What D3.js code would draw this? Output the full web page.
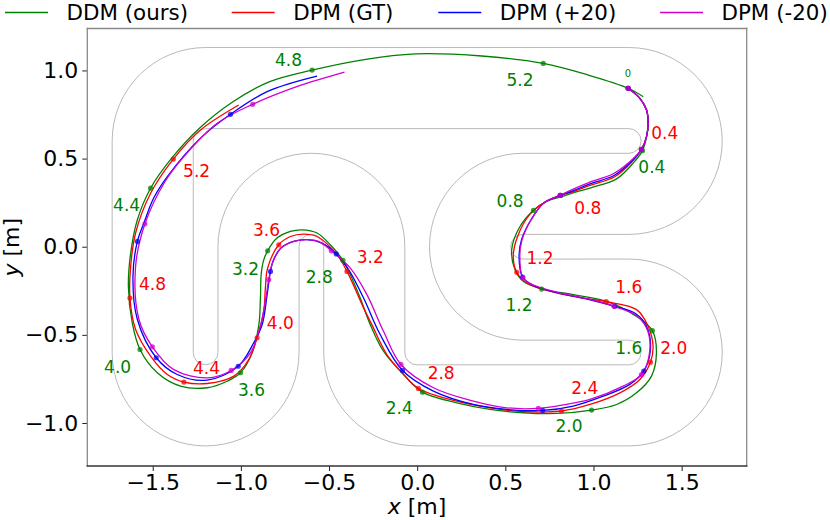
<!DOCTYPE html>
<html>
<head>
<meta charset="utf-8">
<script src="https://cdn.jsdelivr.net/npm/d3@7"></script>
<style>
    body { margin: 0; background: #fff; }
    svg { display: block; font-family: "DejaVu Sans", sans-serif; }
</style>
</head>
<body>
<div id="chart"></div>
<script>
// ---- data (metres) ----
const xTicks = [-1.5, -1.0, -0.5, 0.0, 0.5, 1.0, 1.5]
const yTicks = [-1.0, -0.5, 0.0, 0.5, 1.0]

// track walls: M/L points, A = [cx, cy, r, startDeg, endDeg]
const outerWall = [
    ['M', -1.2, 1.13], ['L', 1.2, 1.13], ['A', 1.2, 0.6, 0.53, 90, -90],
    ['L', 0.6, 0.07], ['A', 0.6, 0, 0.07, 90, 270], ['L', 1.2, -0.07],
    ['A', 1.2, -0.6, 0.53, 90, -90], ['L', 0, -1.13], ['A', 0, -0.6, 0.53, -90, -180],
    ['L', -0.53, 0], ['A', -0.6, 0, 0.07, 0, 180], ['L', -0.67, -0.6],
    ['A', -1.2, -0.6, 0.53, 0, -180], ['L', -1.73, 0.6], ['A', -1.2, 0.6, 0.53, 180, 90]
]
const innerWall = [
    ['M', -1.27, 0.6], ['A', -1.2, 0.6, 0.07, 180, 90], ['L', 1.2, 0.67],
    ['A', 1.2, 0.6, 0.07, 90, -90], ['L', 0.6, 0.53], ['A', 0.6, 0, 0.53, 90, 270],
    ['L', 1.2, -0.53], ['A', 1.2, -0.6, 0.07, 90, -90], ['L', 0, -0.67],
    ['A', 0, -0.6, 0.07, -90, -180], ['L', -0.07, 0], ['A', -0.6, 0, 0.53, 0, 180],
    ['L', -1.13, -0.6], ['A', -1.2, -0.6, 0.07, 0, -180], ['L', -1.27, 0.6]
]

const ddmPath = [
    [1.197, 0.899], [1.263, 0.842], [1.301, 0.776], [1.310, 0.700], [1.301, 0.625], [1.278, 0.545],
    [1.225, 0.474], [1.131, 0.385], [0.980, 0.333], [0.880, 0.304], [0.810, 0.281], [0.734, 0.257], [0.659, 0.206],
    [0.583, 0.115], [0.536, -0.017], [0.555, -0.130], [0.602, -0.196], [0.706, -0.240],
    [0.885, -0.272], [1.074, -0.310], [1.244, -0.395], [1.334, -0.476],
    [1.357, -0.602], [1.329, -0.734], [1.244, -0.829], [1.131, -0.895], [0.989, -0.927],
    [0.791, -0.946], [0.602, -0.942], [0.413, -0.923], [0.225, -0.886], [0.030, -0.825],
    [-0.078, -0.725], [-0.191, -0.593], [-0.266, -0.442], [-0.323, -0.291], [-0.379, -0.159], [-0.421, -0.077],
    [-0.493, 0.011], [-0.568, 0.078], [-0.653, 0.096], [-0.719, 0.087], [-0.795, 0.049], [-0.848, -0.023],
    [-0.872, -0.080], [-0.885, -0.159], [-0.889, -0.291], [-0.898, -0.442], [-0.936, -0.602], [-1.002, -0.715],
    [-1.078, -0.763], [-1.191, -0.800], [-1.342, -0.791], [-1.474, -0.715], [-1.572, -0.583],
    [-1.616, -0.432], [-1.638, -0.225], [-1.625, -0.036], [-1.587, 0.153], [-1.512, 0.332],
    [-1.390, 0.505], [-1.235, 0.672], [-1.045, 0.822], [-0.840, 0.935], [-0.596, 1.002],
    [-0.300, 1.062], [-0.011, 1.094], [0.366, 1.082], [0.715, 1.040], [0.970, 0.974], [1.197, 0.899], [1.282, 0.851]
]
const gtPath = [
    [1.197, 0.899], [1.263, 0.842], [1.301, 0.776], [1.310, 0.700], [1.301, 0.625], [1.272, 0.552],
    [1.215, 0.478], [1.120, 0.397], [0.980, 0.348], [0.895, 0.316], [0.812, 0.291],
    [0.740, 0.262], [0.640, 0.185], [0.570, 0.060], [0.545, -0.055], [0.565, -0.145],
    [0.621, -0.206], [0.791, -0.262], [0.930, -0.290], [1.072, -0.312],
    [1.244, -0.357], [1.310, -0.451], [1.338, -0.565], [1.323, -0.655],
    [1.263, -0.753], [1.150, -0.829], [0.980, -0.895], [0.819, -0.932],
    [0.602, -0.936], [0.413, -0.914], [0.225, -0.876], [0.007, -0.804],
    [-0.085, -0.715], [-0.172, -0.612], [-0.257, -0.442], [-0.304, -0.347], [-0.398, -0.140],
    [-0.455, -0.045], [-0.568, 0.058], [-0.644, 0.072], [-0.719, 0.058], [-0.785, 0.011],
    [-0.848, -0.121], [-0.861, -0.234], [-0.870, -0.366], [-0.908, -0.517],
    [-0.955, -0.640], [-1.040, -0.734], [-1.191, -0.776], [-1.323, -0.768],
    [-1.417, -0.725], [-1.512, -0.621], [-1.597, -0.470], [-1.629, -0.291],
    [-1.625, -0.111], [-1.597, 0.078], [-1.512, 0.303], [-1.383, 0.497],
    [-1.229, 0.662], [-1.012, 0.804]
]
const plusPath = [
    [1.197, 0.899], [1.263, 0.842], [1.301, 0.776], [1.310, 0.700], [1.301, 0.625], [1.272, 0.552],
    [1.210, 0.479], [1.116, 0.404], [0.980, 0.357], [0.890, 0.320], [0.812, 0.291],
    [0.720, 0.250], [0.650, 0.160], [0.592, 0.040], [0.578, -0.050], [0.598, -0.172],
    [0.660, -0.220], [0.800, -0.262], [0.970, -0.298], [1.121, -0.338],
    [1.240, -0.380], [1.301, -0.451], [1.323, -0.583], [1.285, -0.706],
    [1.206, -0.781], [1.055, -0.848], [0.885, -0.904], [0.712, -0.929],
    [0.508, -0.923], [0.319, -0.895], [0.092, -0.819], [-0.083, -0.702],
    [-0.210, -0.498], [-0.304, -0.291], [-0.389, -0.130], [-0.459, -0.041],
    [-0.540, 0.020], [-0.625, 0.040], [-0.700, 0.030], [-0.770, -0.005], [-0.815, -0.075], [-0.832, -0.140],
    [-0.851, -0.272], [-0.879, -0.442], [-0.927, -0.545], [-1.015, -0.678],
    [-1.191, -0.757], [-1.361, -0.725], [-1.480, -0.630],
    [-1.587, -0.413], [-1.612, -0.168], [-1.587, 0.030],
    [-1.550, 0.134], [-1.495, 0.275], [-1.417, 0.398], [-1.229, 0.616], [-1.059, 0.751],
    [-0.851, 0.880], [-0.568, 0.968]
]
const minusPath = [
    [1.197, 0.899], [1.263, 0.842], [1.301, 0.776], [1.310, 0.700], [1.301, 0.625], [1.272, 0.552],
    [1.206, 0.482], [1.112, 0.414], [0.980, 0.367], [0.885, 0.327], [0.810, 0.291],
    [0.715, 0.245], [0.645, 0.150], [0.595, 0.040], [0.582, -0.050], [0.600, -0.176],
    [0.660, -0.218], [0.800, -0.260], [0.970, -0.296], [1.116, -0.338],
    [1.235, -0.385], [1.300, -0.460], [1.320, -0.583], [1.272, -0.725],
    [1.168, -0.791], [0.980, -0.866], [0.830, -0.897], [0.687, -0.917],
    [0.508, -0.914], [0.319, -0.876], [0.092, -0.800], [-0.092, -0.668],
    [-0.191, -0.480], [-0.285, -0.272], [-0.379, -0.121], [-0.487, -0.023],
    [-0.560, 0.030], [-0.625, 0.040], [-0.700, 0.030], [-0.775, -0.010], [-0.822, -0.095], [-0.842, -0.187],
    [-0.860, -0.300], [-0.890, -0.450], [-0.946, -0.602], [-1.055, -0.702],
    [-1.191, -0.744], [-1.380, -0.697], [-1.502, -0.568],
    [-1.578, -0.413], [-1.597, -0.111], [-1.544, 0.130],
    [-1.430, 0.370], [-1.323, 0.511], [-1.134, 0.700], [-0.933, 0.808],
    [-0.663, 0.915], [-0.412, 0.991]
]

// markers every 0.4 s
const ddmDots = [[1.197, 0.899], [1.278, 0.545], [0.659, 0.206], [0.706, -0.240], [1.334, -0.476], [0.989, -0.927], [0.030, -0.825], [-0.421, -0.077], [-0.848, -0.023], [-1.002, -0.715], [-1.572, -0.583], [-1.512, 0.332], [-0.596, 1.002], [0.715, 1.040]]
const gtDots = [[1.197, 0.899], [1.272, 0.552], [0.812, 0.291], [0.565, -0.145], [1.072, -0.312], [1.323, -0.655], [0.819, -0.932], [0.007, -0.804], [-0.398, -0.140], [-0.785, 0.011], [-0.908, -0.517], [-1.323, -0.768], [-1.629, -0.291], [-1.383, 0.497]]
const plusDots = [[1.197, 0.899], [1.272, 0.552], [0.812, 0.291], [0.598, -0.172], [1.121, -0.338], [1.285, -0.706], [0.712, -0.929], [-0.083, -0.702], [-0.459, -0.041], [-0.832, -0.140], [-1.015, -0.678], [-1.480, -0.630], [-1.587, 0.030], [-1.059, 0.751]]
const minusDots = [[1.197, 0.899], [1.272, 0.552], [0.810, 0.291], [0.600, -0.176], [1.116, -0.338], [1.272, -0.725], [0.687, -0.917], [-0.092, -0.668], [-0.487, -0.023], [-0.842, -0.187], [-1.055, -0.702], [-1.502, -0.568], [-1.544, 0.130], [-0.933, 0.808]]

// time labels
const ddmTimes = ['0', '0.4', '0.8', '1.2', '1.6', '2.0', '2.4', '2.8', '3.2', '3.6', '4.0', '4.4', '4.8', '5.2']
const ddmLabelPos = [[1.195, 0.985], [1.331, 0.453], [0.527, 0.260], [0.578, -0.328], [1.200, -0.572], [0.861, -1.019], [-0.102, -0.912], [-0.555, -0.170], [-0.974, -0.125], [-0.940, -0.810], [-1.699, -0.680], [-1.648, 0.238], [-0.730, 1.059], [0.583, 0.946]]
const gtTimes = ['0.4', '0.8', '1.2', '1.6', '2.0', '2.4', '2.8', '3.2', '3.6', '4.0', '4.4', '4.8', '5.2']
const gtLabelPos = [[1.404, 0.646], [0.968, 0.221], [0.697, -0.062], [1.200, -0.226], [1.455, -0.572], [0.951, -0.798], [0.136, -0.713], [-0.266, -0.057], [-0.855, 0.096], [-0.776, -0.430], [-1.195, -0.685], [-1.501, -0.210], [-1.251, 0.430]]

const seriesNames = ['DDM (ours)', 'DPM (GT)', 'DPM (+20)', 'DPM (-20)']
const seriesColors = ['#008000', '#ff0000', '#0000ff', '#d000d0']

// ---- drawing ----
const width = 830
const height = 520
const svg = d3.select('#chart').append('svg')
    .attr('width', width)
    .attr('height', height)

const x = d3.scaleLinear().domain([-1.871, 1.869]).range([87.3, 746.7])
const y = d3.scaleLinear().domain([-1.244, 1.238]).range([466, 28.5])
const k = x(1) - x(0)

// track
const wallPath = segs => {
    const p = d3.path()
    segs.forEach(s => {
        if (s[0] === 'M') p.moveTo(x(s[1]), y(s[2]))
        else if (s[0] === 'L') p.lineTo(x(s[1]), y(s[2]))
        else p.arc(x(s[1]), y(s[2]), s[3] * k, -s[4] * Math.PI / 180, -s[5] * Math.PI / 180, s[5] > s[4])
    })
    p.closePath()
    return p.toString()
}
svg.append('g')
    .selectAll('path')
    .data([outerWall, innerWall])
    .join('path')
    .attr('d', wallPath)
    .attr('fill', 'none')
    .attr('stroke', '#b9b9b9')
    .attr('stroke-width', 1)

// trajectories
const line = d3.line()
    .x(d => x(d[0]))
    .y(d => y(d[1]))
    .curve(d3.curveCatmullRom.alpha(0.5))

const paths = [ddmPath, gtPath, plusPath, minusPath]
const dots = [ddmDots, gtDots, plusDots, minusDots]

paths.forEach((pts, i) => {
    svg.append('path')
        .datum(pts)
        .attr('d', line)
        .attr('fill', 'none')
        .attr('stroke', seriesColors[i])
        .attr('stroke-width', 1.3)
})
dots.forEach((pts, i) => {
    svg.append('g')
        .selectAll('circle')
        .data(pts)
        .join('circle')
        .attr('cx', d => x(d[0]))
        .attr('cy', d => y(d[1]))
        .attr('r', 2.6)
        .attr('fill', seriesColors[i])
        .attr('fill-opacity', 0.75)
})

// time labels
svg.append('g')
    .selectAll('text')
    .data(ddmTimes)
    .join('text')
    .attr('x', (d, i) => x(ddmLabelPos[i][0]))
    .attr('y', (d, i) => y(ddmLabelPos[i][1]))
    .attr('dy', '0.36em')
    .attr('text-anchor', 'middle')
    .attr('font-size', d => d === '0' ? 10 : 17)
    .attr('fill', seriesColors[0])
    .text(d => d)
svg.append('g')
    .selectAll('text')
    .data(gtTimes)
    .join('text')
    .attr('x', (d, i) => x(gtLabelPos[i][0]))
    .attr('y', (d, i) => y(gtLabelPos[i][1]))
    .attr('dy', '0.36em')
    .attr('text-anchor', 'middle')
    .attr('font-size', 17)
    .attr('fill', seriesColors[1])
    .text(d => d)

// axes
const fmt = d3.format('.1f')
const xAxis = g => g
    .attr('transform', `translate(0, ${y.range()[0]})`)
    .call(d3.axisBottom(x).tickValues(xTicks).tickFormat(fmt).tickSize(5).tickPadding(3))
    .call(g => g.select('.domain').remove())
const yAxis = g => g
    .attr('transform', `translate(${x.range()[0]}, 0)`)
    .call(d3.axisLeft(y).tickValues(yTicks).tickFormat(fmt).tickSize(5).tickPadding(4))
    .call(g => g.select('.domain').remove())

svg.append('g').call(xAxis)
svg.append('g').call(yAxis)
svg.selectAll('.tick text')
    .attr('font-size', 22)
    .attr('font-family', '"DejaVu Sans", sans-serif')
    .attr('fill', '#000')
svg.selectAll('.tick line').attr('stroke', '#222').attr('stroke-width', 1)

// frame
const [x0, x1] = x.range()
const [y0, y1] = y.range()
const spines = [
    [x0, y1, x1, y1, '#8a8a8a'],
    [x1, y1, x1, y0, '#8a8a8a'],
    [x0, y1, x0, y0, '#8a8a8a'],
    [x0, y0, x1, y0, '#333']
]
svg.append('g')
    .selectAll('line')
    .data(spines)
    .join('line')
    .attr('x1', d => d[0]).attr('y1', d => d[1])
    .attr('x2', d => d[2]).attr('y2', d => d[3])
    .attr('stroke', d => d[4])
    .attr('stroke-width', 1.3)
    .attr('stroke-linecap', 'square')

// axis titles
const xt = svg.append('text')
    .attr('x', (x0 + x1) / 2)
    .attr('y', 514)
    .attr('text-anchor', 'middle')
    .attr('font-size', 22)
xt.append('tspan').attr('font-style', 'italic').text('x')
xt.append('tspan').text(' [m]')

const yt = svg.append('text')
    .attr('transform', `translate(19, ${(y0 + y1) / 2}) rotate(-90)`)
    .attr('text-anchor', 'middle')
    .attr('font-size', 22)
yt.append('tspan').attr('font-style', 'italic').text('y')
yt.append('tspan').text(' [m]')

// legend
const legendX = [5, 231.7, 438.3, 660]
const legend = svg.append('g')
    .selectAll('g')
    .data(seriesNames)
    .join('g')
    .attr('transform', (d, i) => `translate(${legendX[i]}, 0)`)
legend.append('line')
    .attr('x1', 0).attr('x2', 43)
    .attr('y1', 12.5).attr('y2', 12.5)
    .attr('stroke', (d, i) => seriesColors[i])
    .attr('stroke-width', 1.3)
legend.append('text')
    .attr('x', 61.5)
    .attr('y', 20)
    .attr('font-size', 21.4)
    .text(d => d)
</script>
</body>
</html>
